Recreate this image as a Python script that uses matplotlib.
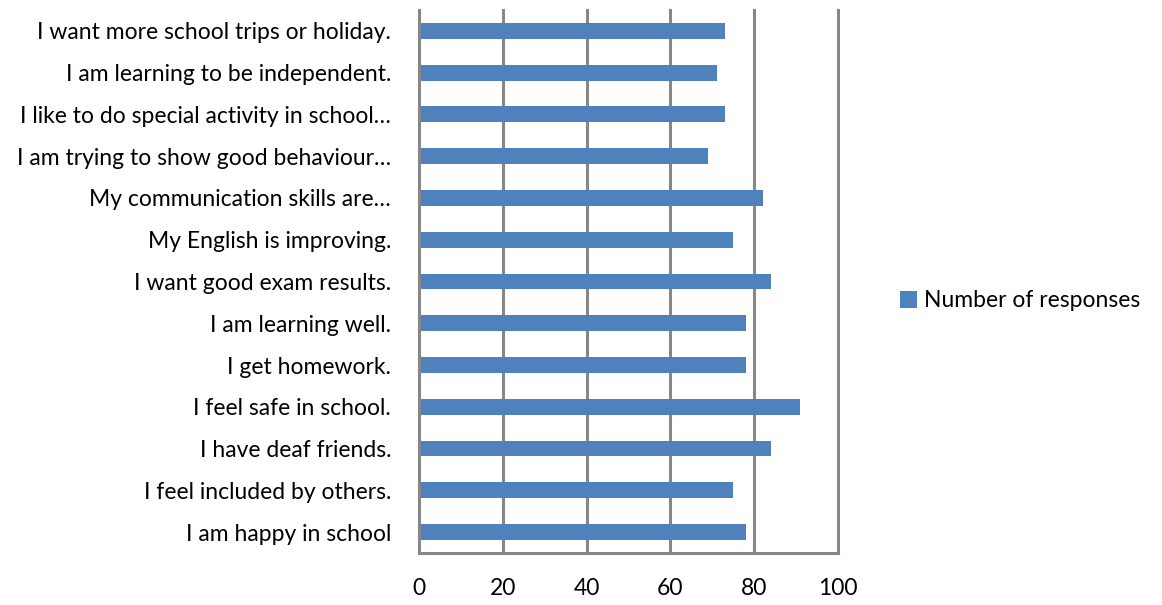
import matplotlib
matplotlib.use("Agg")
import matplotlib.pyplot as plt

categories = [
    "I am happy in school",
    "I feel included by others.",
    "I have deaf friends.",
    "I feel safe in school.",
    "I get homework.",
    "I am learning well.",
    "I want good exam results.",
    "My English is improving.",
    "My communication skills are…",
    "I am trying to show good behaviour…",
    "I like to do special activity in school…",
    "I am learning to be independent.",
    "I want more school trips or holiday.",
]
responses = [78, 75, 84, 91, 78, 78, 84, 75, 82, 69, 73, 71, 73]
xticks = [0, 20, 40, 60, 80, 100]

plt.rcParams['font.family'] = ['Lato', 'DejaVu Sans']
FS = 16.5

fig = plt.figure(figsize=(11.62, 6.05), dpi=100)
ax = fig.add_axes([0.3606, 0.086, 0.3606, 0.8975])

grid_color = "#878787"
bars = ax.barh(range(len(categories)), responses, height=0.38, color="#4F81BD",
               label="Number of responses", zorder=3)
ax.set_xlim(0, 100)
ax.set_ylim(-0.5, len(categories) - 0.5)
ax.set_yticks(range(len(categories)))
ax.set_yticklabels(categories, fontsize=FS)
ax.set_xticks(xticks)
ax.set_xticklabels([str(t) for t in xticks], fontsize=FS)
ax.tick_params(axis='both', length=0)
ax.tick_params(axis='y', pad=20)
ax.tick_params(axis='x', pad=18)
for t in xticks[1:]:
    ax.axvline(t, color=grid_color, linewidth=2.2, zorder=1, clip_on=False)
for s in ["top", "right"]:
    ax.spines[s].set_visible(False)
for s in ["left", "bottom"]:
    ax.spines[s].set_color(grid_color)
    ax.spines[s].set_linewidth(2.2)
    ax.spines[s].set_zorder(4)

fig.legend(handles=[bars], labels=["Number of responses"], loc="center left",
           bbox_to_anchor=(0.757, 0.503), frameon=False, fontsize=FS,
           handlelength=0.75, handleheight=0.75, handletextpad=0.3)

fig.savefig("out.png", dpi=100)
